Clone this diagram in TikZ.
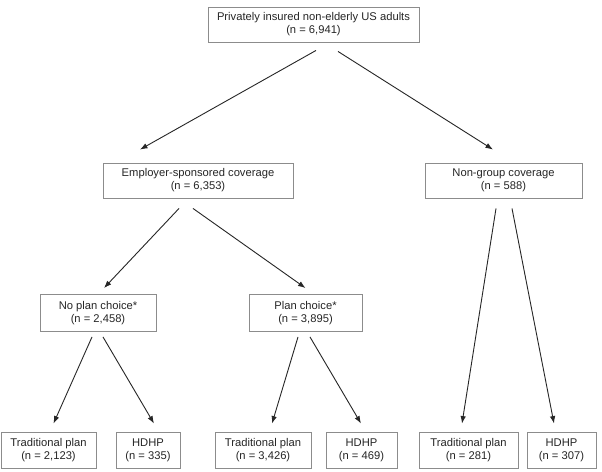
\documentclass[tikz,border=0pt]{standalone}
\usepackage{fontspec}
\setmainfont{Liberation Sans}
\usetikzlibrary{arrows.meta}
\begin{document}
\begin{tikzpicture}[x=1pt,y=-1pt,
  box/.style={draw=black!45,line width=0.9pt,fill=white,inner sep=0pt,align=center,
    font=\fontsize{11.2}{13}\selectfont,text=black!85},
  arr/.style={draw=black!85,line width=0.9pt,-{Latex[length=7.5pt,width=5.5pt]}}]
\useasboundingbox[fill=white] (0,0) rectangle (602,471);
\node[box,minimum width=211pt,minimum height=35pt] (top) at (313.5,24.5) {Privately insured non-elderly US adults\\(n = 6,941)};
\node[box,minimum width=190pt,minimum height=35pt] (emp) at (198,180.5) {Employer-sponsored coverage\\(n = 6,353)};
\node[box,minimum width=157pt,minimum height=35pt] (nong) at (503.5,180.5) {Non-group coverage\\(n = 588)};
\node[box,minimum width=116pt,minimum height=37pt] (noch) at (98,313) {No plan choice*\\(n = 2,458)};
\node[box,minimum width=113pt,minimum height=37pt] (plch) at (305.5,313) {Plan choice*\\(n = 3,895)};
\node[box,minimum width=95pt,minimum height=36pt] (t1) at (48.5,450) {Traditional plan\\(n = 2,123)};
\node[box,minimum width=64pt,minimum height=36pt] (h1) at (148,450) {HDHP\\(n = 335)};
\node[box,minimum width=96pt,minimum height=36pt] (t2) at (263,450) {Traditional plan\\(n = 3,426)};
\node[box,minimum width=71pt,minimum height=36pt] (h2) at (361.5,450) {HDHP\\(n = 469)};
\node[box,minimum width=99pt,minimum height=36pt] (t3) at (468.5,450) {Traditional plan\\(n = 281)};
\node[box,minimum width=69pt,minimum height=36pt] (h3) at (561.5,450) {HDHP\\(n = 307)};
\draw[arr] ([xshift=2.5pt,yshift=-8pt]top.south) -- ([xshift=-58pt,yshift=13pt]emp.north);
\draw[arr] ([xshift=24.5pt,yshift=-9pt]top.south) -- ([xshift=-10.5pt,yshift=13pt]nong.north);
\draw[arr] ([xshift=-19pt,yshift=-10pt]emp.south) -- ([xshift=6pt,yshift=6pt]noch.north);
\draw[arr] ([xshift=-5pt,yshift=-10pt]emp.south) -- ([xshift=0pt,yshift=6pt]plch.north);
\draw[arr] ([xshift=-7.5pt,yshift=-10pt]nong.south) -- ([xshift=-6.5pt,yshift=8pt]t3.north);
\draw[arr] ([xshift=8.5pt,yshift=-10pt]nong.south) -- ([xshift=-7.5pt,yshift=8pt]h3.north);
\draw[arr] ([xshift=-6pt,yshift=-5pt]noch.south) -- ([xshift=5pt,yshift=8pt]t1.north);
\draw[arr] ([xshift=5pt,yshift=-5pt]noch.south) -- ([xshift=6pt,yshift=8pt]h1.north);
\draw[arr] ([xshift=-7.5pt,yshift=-5pt]plch.south) -- ([xshift=9pt,yshift=8pt]t2.north);
\draw[arr] ([xshift=4.5pt,yshift=-5pt]plch.south) -- ([xshift=-0.5pt,yshift=8pt]h2.north);
\end{tikzpicture}
\end{document}
